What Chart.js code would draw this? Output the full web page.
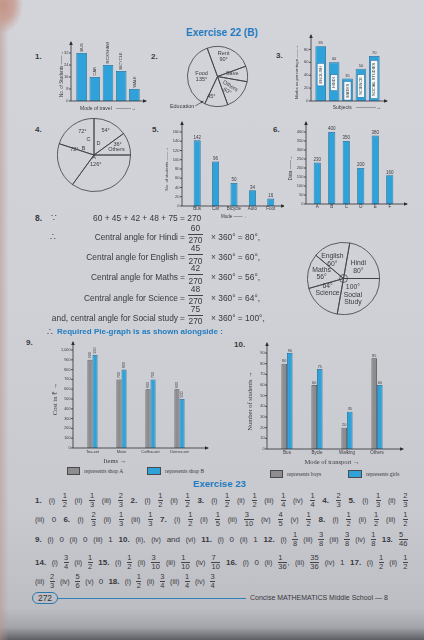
<!DOCTYPE html>
<html><head><meta charset="utf-8">
<script src="https://cdn.jsdelivr.net/npm/chart.js@4.4.1/dist/chart.umd.min.js"></script>
<style>
html,body{margin:0;padding:0}
body{width:424px;height:640px;position:relative;overflow:hidden;font-family:"Liberation Sans",Arial,sans-serif;color:#38383c;
background:
 radial-gradient(ellipse 20px 28px at 3px 5px, rgba(196,150,135,1) 0%, rgba(200,160,150,.9) 55%, rgba(200,160,150,0) 100%),
 linear-gradient(90deg, rgba(185,150,140,.55) 0px, rgba(185,150,140,0) 9px),
 linear-gradient(180deg,#d3d4da 0%,#d0d1d7 45%,#c8c9cf 80%,#bdbec4 95%,#a4a5aa 98%,#5d5e63 100%);}
canvas{position:absolute}
.t{position:absolute;white-space:nowrap;font-size:8px;line-height:10px}
.b{font-weight:bold}
.blue{color:#1f7cc0}
.ser{font-family:"Liberation Serif","Times New Roman",serif}
.fr{display:inline-block;vertical-align:middle;text-align:center;line-height:8.5px;font-size:7.5px}
.fr>span{display:block;padding:0 0.5px}
.fr>span:first-child{border-bottom:0.8px solid #444}
.row{position:absolute;left:35px;width:373px;height:20px;line-height:20px;font-size:8px;text-align:justify;text-align-last:justify}
.row i{font-style:normal;font-size:7px}
.row5{text-align:left;text-align-last:left;word-spacing:3px}
.box{position:absolute;border:0.8px solid #4a4a4c;box-sizing:border-box}
</style></head><body>
<script>
// ================= DATA =================
const travelModes = ['BUS','CAR','RICKSHAW','BICYCLE','WALK'];
const travelStudents = [32,16,24,20,8];
const travelTicks = [0,8,16,24,32];

const budgetItems = ['Rent','Save','Others','Education','Food'];
const budgetAngles = [90,30,60,45,135];

const subjects3 = ['ENGLISH','HINDI','MATHS','SCIENCE','SOCIAL STUDIES'];
const marks3 = [85,60,35,50,70];
const ticks3 = [0,10,20,30,40,50,60,70,80,90];

const sectors4 = ['D','Others','A','B','C'];
const angles4 = [54,36,126,72,72];

const modes5 = ['Bus','Car','Bicycle','Auto','Foot'];
const students5 = [142,96,50,34,16];
const ticks5 = [0,20,40,60,80,100,120,140,160];

const cats6 = ['A','B','C','D','E','F'];
const data6 = [230,400,350,200,380,160];
const ticks6 = [0,50,100,150,200,250,300,350,400];

const subjects8 = ['Hindi','English','Maths','Science','Social study'];
const marks8 = [60,45,42,48,75];
const central8 = [80,60,56,64,100];
const pieSubjects8 = ['Hindi','Social Study','Science','Maths','English'];
const pieAngles8 = [80,100,64,56,60];

const items9 = ['Tea-set','Mixie','Coffee-set','Dinner-set'];
const shopA = [900,700,600,600];
const shopB = [950,800,700,500];
const ticks9 = [0,100,200,300,400,500,600,700,800,900,1000];

const modes10 = ['Bus','Bycle','Walking','Others'];
const boys10 = [80,60,20,85];
const girls10 = [90,75,35,60];
const ticks10 = [0,10,20,30,40,50,60,70,80,90];

// ================= STYLE =================
const TXT='#3a3a3e', AXC='#2e2e32';
const BLUE='#2ea2d9', BLUE_E='#1d6a98', GRAY='#8d8d90', GRAY_E='#4a4a4d';
const SANS='"Liberation Sans", Arial, sans-serif', SERIF='"Liberation Serif","Times New Roman",serif';
Chart.defaults.font.family=SANS; Chart.defaults.color=TXT;

function mk(l,t,w,h){const c=document.createElement('canvas');c.width=Math.round(w);c.height=Math.round(h);
 Object.assign(c.style,{left:l+'px',top:t+'px',width:Math.round(w)+'px',height:Math.round(h)+'px'});document.body.appendChild(c);return c;}

const axesPlugin={id:'axesPlugin',afterDatasetsDraw(chart,args,o){
  const {ctx,chartArea:a}=chart; const ax=a.left-(o.gap||0), ay=a.bottom;
  ctx.save(); ctx.strokeStyle=AXC; ctx.fillStyle=AXC; ctx.lineWidth=0.8;
  const xe=a.right+o.xExt, ye=a.top-o.yExt;
  ctx.beginPath(); ctx.moveTo(ax,ay); ctx.lineTo(xe,ay); ctx.moveTo(ax,ay); ctx.lineTo(ax,ye); ctx.stroke();
  const s=3;
  ctx.beginPath(); ctx.moveTo(xe+1,ay); ctx.lineTo(xe-s,ay-s*0.6); ctx.lineTo(xe-s,ay+s*0.6); ctx.closePath(); ctx.fill();
  ctx.beginPath(); ctx.moveTo(ax,ye-1); ctx.lineTo(ax-s*0.6,ye+s); ctx.lineTo(ax+s*0.6,ye+s); ctx.closePath(); ctx.fill();
  const ys=chart.scales.y;
  ys.ticks.forEach(tk=>{const py=ys.getPixelForValue(tk.value); ctx.beginPath(); ctx.moveTo(ax-2,py); ctx.lineTo(ax,py); ctx.stroke();});
  ctx.restore();
}};

const valuePlugin={id:'valuePlugin',afterDatasetsDraw(chart,args,o){
  if(!o||!o.mode) return;
  const {ctx}=chart; ctx.save(); ctx.fillStyle=TXT; ctx.font=o.font;
  chart.data.datasets.forEach((ds,di)=>{
    chart.getDatasetMeta(di).data.forEach((b,i)=>{
      const p=b.getProps(['x','y','base','width'],true);
      const val=String(ds.data[i]);
      if(o.mode==='up'){ctx.textAlign='center';ctx.textBaseline='bottom';ctx.fillText(val,p.x,p.y-(o.off||0.5));}
      else if(o.mode==='vert'){const txt=o.useLabels?chart.data.labels[i]:val;
        ctx.save();ctx.translate(p.x,p.y-(o.off||1.5));ctx.rotate(-Math.PI/2);ctx.textAlign='left';ctx.textBaseline='middle';ctx.fillText(txt,0,0);ctx.restore();}
      else if(o.mode==='inner'){
        const lab=chart.data.labels[i]; const tw=ctx.measureText(lab).width;
        const bh=tw+5, bw=p.width-3.5, cy=(p.y+p.base)/2+1;
        ctx.fillStyle='#f4f6f8'; ctx.fillRect(p.x-bw/2,cy-bh/2,bw,bh);
        ctx.strokeStyle=BLUE_E; ctx.lineWidth=0.5; ctx.strokeRect(p.x-bw/2,cy-bh/2,bw,bh);
        ctx.fillStyle=TXT;
        ctx.save();ctx.translate(p.x,cy);ctx.rotate(-Math.PI/2);ctx.textAlign='center';ctx.textBaseline='middle';ctx.fillText(lab,0,0);ctx.restore();
        ctx.textAlign='center';ctx.textBaseline='bottom';ctx.fillText(val,p.x,p.y-1);
      }
    });
  });
  ctx.restore();
}};

function barChart(c){
  const [l,t,w,h]=c.box, [x0,y0,x1,y1]=c.area;
  const cv=mk(l,t,w,h);
  return new Chart(cv,{type:'bar',
    data:{labels:c.labels,datasets:c.datasets},
    plugins:[axesPlugin,valuePlugin],
    options:{responsive:false,animation:false,events:[],
      layout:{padding:{left:0,top:y0-t,right:l+w-x1,bottom:0}},
      plugins:{legend:{display:false},tooltip:{enabled:false},
        axesPlugin:{gap:c.gap||0,xExt:c.xExt,yExt:c.yExt},
        valuePlugin:c.values||{}},
      scales:{
        x:{grid:{display:false,drawTicks:false},border:{display:false},
           ticks:{display:!!c.xTickFont,font:c.xTickFont,color:TXT,padding:c.xTickPad||0.5,maxRotation:0,autoSkip:false},
           title:{display:!!c.xTitle,text:c.xTitle,font:c.xTitleFont,color:TXT,padding:0,align:c.xTitleAlign||'center'},
           afterFit:s=>{s.height=t+h-y1;}},
        y:{min:0,max:c.yMax,grid:{display:false,drawTicks:false},border:{display:false},
           ticks:{font:c.yTickFont,color:TXT,padding:(c.gap||0)+2.5},
           afterBuildTicks:s=>{s.ticks=c.yTicks.map(v=>({value:v}));},
           title:{display:true,text:c.yTitle,font:c.yTitleFont,color:TXT,padding:0},
           afterFit:s=>{s.width=x0-l;}}
      }}});
}

const pieLabels={id:'pieLabels',afterDatasetsDraw(chart,args,o){
  const {ctx}=chart; const arc=chart.getDatasetMeta(0).data[0];
  const cx=arc.x, cy=arc.y, r=arc.outerRadius;
  ctx.save(); ctx.fillStyle=TXT; ctx.strokeStyle='#3c3c40'; ctx.lineWidth=0.7; ctx.font=o.font; ctx.textAlign='center'; ctx.textBaseline='middle';
  const pt=(a,f)=>[cx+Math.sin(a*Math.PI/180)*r*f, cy-Math.cos(a*Math.PI/180)*r*f];
  (o.items||[]).forEach(it=>{const [x,y]=pt(it.a,it.f); ctx.save(); ctx.translate(x,y); if(it.rot) ctx.rotate(it.rot*Math.PI/180);
    const lines=it.t.split('\n'); lines.forEach((ln,k)=>ctx.fillText(ln,0,(k-(lines.length-1)/2)*o.lh)); ctx.restore();});
  if(o.center){ctx.beginPath();ctx.arc(cx,cy,o.center,0,2*Math.PI);ctx.stroke();}
  if(o.callout){const c=o.callout; const [px,py]=pt(c.a,c.f); const qx=px+c.dx, qy=py+c.dy;
    ctx.beginPath();ctx.moveTo(qx,qy);ctx.lineTo(px,py);ctx.stroke();
    const ang=Math.atan2(py-qy,px-qx); ctx.beginPath(); ctx.moveTo(px,py);
    ctx.lineTo(px-3*Math.cos(ang-0.45),py-3*Math.sin(ang-0.45)); ctx.lineTo(px-3*Math.cos(ang+0.45),py-3*Math.sin(ang+0.45)); ctx.closePath(); ctx.fill();
    ctx.textAlign='right'; ctx.fillText(c.t,qx-1,qy+0.5);}
  ctx.restore();
}};

function pie(box,pad,labels,data,rotation,lab){
  const [l,t,w,h]=box; const cv=mk(l,t,w,h);
  return new Chart(cv,{type:'pie',data:{labels,datasets:[{data,backgroundColor:'rgba(0,0,0,0)',borderColor:'#3c3c40',borderWidth:0.8}]},
   plugins:[pieLabels],
   options:{responsive:false,animation:false,events:[],rotation,layout:{padding:pad},
     plugins:{legend:{display:false},tooltip:{enabled:false},pieLabels:lab}}});
}

function txt(html,l,yc,cls,extra){const d=document.createElement('div');d.className='t '+(cls||'');d.innerHTML=html;
  d.style.left=l+'px';d.style.top=(yc-5)+'px';if(extra)Object.assign(d.style,extra);document.body.appendChild(d);return d;}
function rect(l,t,w,h,bg,cls){const d=document.createElement('div');d.className=cls||'box';Object.assign(d.style,{left:l+'px',top:t+'px',width:w+'px',height:h+'px',background:bg});document.body.appendChild(d);return d;}

// ================= HEADINGS =================
txt('Exercise 22 (B)',186,33,'b blue',{fontSize:'10px',lineHeight:'12px',top:'27px'});
txt('1.',35,57,'b');txt('2.',151,57,'b');txt('3.',276,56,'b');
txt('4.',35,130,'b');txt('5.',152,130,'b');txt('6.',273,130,'b');
txt('9.',26,343,'b');txt('10.',234,345,'b');

// ================= CHART 1 =================
barChart({box:[59,36,91,76],area:[75,47,141,101],gap:4,xExt:5,yExt:5,labels:travelModes,
  datasets:[{data:travelStudents,backgroundColor:BLUE,borderColor:BLUE_E,borderWidth:0.8,categoryPercentage:0.8,barPercentage:1}],
  yMax:36,yTicks:travelTicks,yTickFont:{size:4},yTitle:'No. of Students ——→',yTitleFont:{size:4.5},
  xTitle:'Mode of travel   ———→',xTitleFont:{size:5},values:{mode:'vert',useLabels:true,font:'4px '+SANS,off:1.5}});

// ================= CHART 2 =================
pie([165,40,104,75],{left:22,top:6,right:21,bottom:8},budgetItems,budgetAngles,-20,
  {font:'5.5px '+SANS,lh:6,items:[{t:'Rent\n90°',a:17,f:.7},{t:'Save',a:78,f:.5},{t:'Others\n60°',a:137,f:.55,rot:32},{t:'45°',a:197,f:.7},{t:'Food\n135°',a:270,f:.53}],
   callout:{t:'Education',a:210,f:.94,dx:-8,dy:5}});

// ================= CHART 3 =================
barChart({box:[294,33,96,78],area:[314,43,381,101],gap:3,xExt:6,yExt:8,labels:subjects3,
  datasets:[{data:marks3,backgroundColor:BLUE,borderColor:BLUE_E,borderWidth:0.8,categoryPercentage:0.79,barPercentage:1}],
  yMax:90,yTicks:ticks3,yTickFont:{size:4},yTitle:'Marks as percentage ——→',yTitleFont:{size:4.3},
  xTitle:'Subjects   ————→',xTitleFont:{size:5},xTitleAlign:'end',values:{mode:'inner',font:'4px '+SANS}});

// ================= CHART 4 =================
pie([57,118,74,74],0,sectors4,angles4,0,
  {font:'5.5px '+SANS,lh:6,items:[{t:'72°',a:334,f:.73},{t:'C',a:340,f:.44},{t:'54°',a:25,f:.75},{t:'D',a:21,f:.35},
   {t:'36°',a:65,f:.71},{t:'Others',a:77,f:.63},{t:'72°',a:287,f:.56},{t:'B',a:300,f:.33},{t:'A',a:180,f:.07},{t:'126°',a:170,f:.27}]});

// ================= CHART 5 =================
barChart({box:[164,120,120,99],area:[188,132,280,206],gap:6,xExt:4,yExt:10,labels:modes5,
  datasets:[{data:students5,backgroundColor:BLUE,borderColor:BLUE_E,borderWidth:0.8,categoryPercentage:0.38,barPercentage:1}],
  yMax:160,yTicks:ticks5,yTickFont:{size:4},yTitle:'No. of students ——→',yTitleFont:{size:4.3},
  xTickFont:{size:4.5},xTitle:'Mode ——→',xTitleFont:{size:4.5},values:{mode:'up',font:'4.5px '+SANS}});

// ================= CHART 6 =================
barChart({box:[288,118,122,95],area:[310,132,397,204],gap:4,xExt:10,yExt:10,labels:cats6,
  datasets:[{data:data6,backgroundColor:BLUE,borderColor:BLUE_E,borderWidth:0.8,categoryPercentage:0.49,barPercentage:1}],
  yMax:400,yTicks:ticks6,yTickFont:{size:4},yTitle:'Data ——→',yTitleFont:{size:4.5},
  xTickFont:{size:4.5},values:{mode:'up',font:'4.5px '+SANS}});

// ================= SECTION 8 =================
txt('8.',35,218,'b',{fontSize:'8.5px'});
txt('∵',51,218,'',{fontSize:'9px'});
txt(marks8.join(' + ')+' = '+marks8.reduce((s,v)=>s+v,0),93,218,'',{fontSize:'8.4px'});
txt('∴',50,237,'',{fontSize:'9px'});
subjects8.forEach((s,i)=>{
  const yc=237+i*20.2;
  const pre=(i<subjects8.length-1?'Central angle for ':'and, central angle for ')+s;
  txt(pre,0,yc,'',{fontSize:'8.4px',width:'178px',textAlign:'right'});
  txt('=',180,yc,'',{fontSize:'8.4px'});
  txt(String(marks8[i]),187,yc-9,'',{fontSize:'8.4px',width:'17px',textAlign:'center'});
  rect(188,yc-3,15,0.8,'#444','t');
  txt('270',187,yc+3.3,'',{fontSize:'8.4px',width:'17px',textAlign:'center'});
  txt('× 360° = '+central8[i]+'°,',211,yc,'',{fontSize:'8.4px'});
});
txt('∴',47,332,'',{fontSize:'9px'});
txt('Required Pie-graph is as shown alongside :',57,332,'b blue',{fontSize:'8px'});

pie([307,242,73,73],0,pieSubjects8,pieAngles8,10,
  {font:'6.8px '+SANS,lh:7.4,center:4,items:[{t:'English\n60°',a:329,f:.6},{t:'Hindi\n80°',a:52,f:.52},{t:'Maths\n56°',a:282,f:.62},
   {t:'64°\nScience',a:235,f:.54},{t:'100°\nSocial\nStudy',a:150,f:.52}]});

// ================= CHART 9 =================
const nb='\u00a0';
barChart({box:[51,338,161,127],area:[78,350,194,448],gap:5,xExt:14,yExt:8,labels:items9,
  datasets:[{data:shopA,backgroundColor:GRAY,borderColor:GRAY_E,borderWidth:0.8,categoryPercentage:0.35,barPercentage:1},
            {data:shopB,backgroundColor:BLUE,borderColor:BLUE_E,borderWidth:0.8,categoryPercentage:0.35,barPercentage:1}],
  yMax:1000,yTicks:ticks9,yTickFont:{size:3.8},yTitle:'Cost in ₹ →',yTitleFont:{size:6.5,family:SERIF},
  xTickFont:{size:4},xTickPad:1.5,xTitle:'Items →'+nb.repeat(26),xTitleFont:{size:6.5,family:SERIF},values:{mode:'vert',font:'3.6px '+SANS,off:1.5}});
rect(67,467,13,8,GRAY);txt('represents shop A',84,471,'ser',{fontSize:'5.5px'});
rect(147,467,14,8,BLUE);txt('represents shop B',165,471,'ser',{fontSize:'5.5px'});

// ================= CHART 10 =================
barChart({box:[246,340,160,126],area:[272,353,392,449],gap:5,xExt:11,yExt:10,labels:modes10,
  datasets:[{data:boys10,backgroundColor:GRAY,borderColor:GRAY_E,borderWidth:0.8,categoryPercentage:0.37,barPercentage:1},
            {data:girls10,backgroundColor:BLUE,borderColor:BLUE_E,borderWidth:0.8,categoryPercentage:0.37,barPercentage:1}],
  yMax:90,yTicks:ticks10,yTickFont:{size:3.8},yTitle:'Number of students →',yTitleFont:{size:6.5,family:SERIF},
  xTickFont:{size:4.5},xTickPad:1.5,xTitle:'Mode of transport →',xTitleFont:{size:6.5,family:SERIF},values:{mode:'up',font:'3.8px '+SANS}});
rect(270,470,13,8,GRAY);txt('represents boys',287,474,'ser',{fontSize:'5.5px'});
rect(348,470,14,8,BLUE);txt('represents girls',366,474,'ser',{fontSize:'5.5px'});

// ================= EXERCISE 23 =================
txt('Exercise 23',193,484,'b blue',{fontSize:'9.6px',lineHeight:'12px',top:'478px'});
const F=(n,d)=>`<span class="fr"><span>${n}</span><span>${d}</span></span>`;
const L=s=>`<i>(${s})</i>`;
const rows=[
 [500.7,`<b>1.</b> ${L('i')} ${F(1,2)} ${L('ii')} ${F(1,3)} ${L('iii')} ${F(2,3)} <b>2.</b> ${L('i')} ${F(1,2)} ${L('ii')} ${F(1,2)} <b>3.</b> ${L('i')} ${F(1,2)} ${L('ii')} ${F(1,2)} ${L('iii')} ${F(1,4)} ${L('iv')} ${F(1,4)} <b>4.</b> ${F(2,3)} <b>5.</b> ${L('i')} ${F(1,3)} ${L('ii')} ${F(2,3)}`],
 [520,`${L('iii')} 0 <b>6.</b> ${L('i')} ${F(2,3)} ${L('ii')} ${F(1,3)} ${L('iii')} ${F(1,3)} <b>7.</b> ${L('i')} ${F(1,2)} ${L('ii')} ${F(1,5)} ${L('iii')} ${F(3,10)} ${L('iv')} ${F(4,5)} ${L('v')} ${F(1,2)} <b>8.</b> ${L('i')} ${F(1,2)} ${L('ii')} ${F(1,2)} ${L('iii')} ${F(1,2)}`],
 [540,`<b>9.</b> ${L('i')} 0 ${L('ii')} 0 ${L('iii')} 1 <b>10.</b> ${L('ii')}, ${L('iv')} and ${L('vi')} <b>11.</b> ${L('i')} 0 ${L('ii')} 1 <b>12.</b> ${L('i')} ${F(1,8)} ${L('iii')} ${F(3,8)} ${L('iii')} ${F(3,8)} ${L('iv')} ${F(1,8)} <b>13.</b> ${F(5,46)}`],
 [563,`<b>14.</b> ${L('i')} ${F(3,4)} ${L('ii')} ${F(1,2)} <b>15.</b> ${L('i')} ${F(1,2)} ${L('ii')} ${F(3,10)} ${L('iii')} ${F(1,10)} ${L('iv')} ${F(7,10)} <b>16.</b> ${L('i')} 0 ${L('ii')} ${F(1,36)}, ${L('iii')} ${F(35,36)} ${L('iv')} 1 <b>17.</b> ${L('i')} ${F(1,2)} ${L('ii')} ${F(1,2)}`],
 [582,`${L('iii')} ${F(2,3)} ${L('iv')} ${F(5,6)} ${L('v')} 0 <b>18.</b> ${L('i')} ${F(1,2)} ${L('ii')} ${F(3,4)} ${L('iii')} ${F(1,4)} ${L('iv')} ${F(3,4)}`,'row5']
];
rows.forEach(r=>{const d=document.createElement('div');d.className='row '+(r[2]||'');d.style.top=(r[0]-10)+'px';d.innerHTML=r[1];document.body.appendChild(d);});

// ================= FOOTER =================
const ov=document.createElement('div');
Object.assign(ov.style,{position:'absolute',left:'32px',top:'592px',width:'26px',height:'12px',border:'1px solid #2b78b0',borderRadius:'7px',boxSizing:'border-box',
  fontSize:'8.5px',lineHeight:'10px',textAlign:'center',color:'#333'});
ov.textContent='272';document.body.appendChild(ov);
rect(58,598,188,0.9,'#2f7fb8','t');
txt('Concise MATHEMATICS Middle School — 8',250,598,'',{fontSize:'7px'});
</script>
</body></html>
